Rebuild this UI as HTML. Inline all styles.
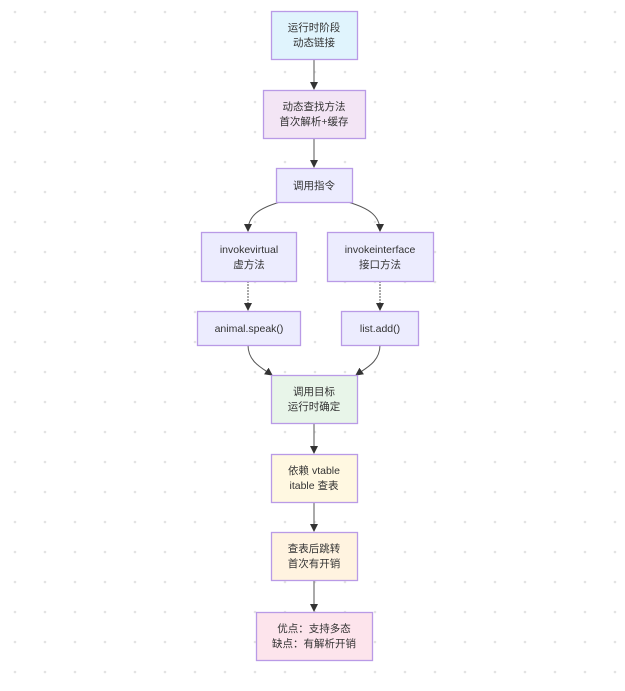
<!DOCTYPE html>
<html><head><meta charset="utf-8"><style>
body{margin:0;background:#fff}
svg{display:block}
text{font-family:"Liberation Sans","Noto Sans CJK SC",sans-serif;font-size:10.5px;fill:#333;text-anchor:middle}
</style></head><body>
<svg width="625" height="691" viewBox="0 0 625 691" xmlns="http://www.w3.org/2000/svg">
<defs>
<pattern id="d" x="0" y="0" width="30" height="30" patternUnits="userSpaceOnUse"><circle cx="15" cy="12" r="1.3" fill="#e3e3e3"/></pattern>
<marker id="a" markerWidth="8" markerHeight="8" refX="7" refY="4" orient="auto" markerUnits="userSpaceOnUse"><path d="M0,0L8,4L0,8z" fill="#333"/></marker>
</defs>
<rect width="625" height="691" fill="url(#d)"/>
<g stroke="#555" stroke-width="1" fill="none" marker-end="url(#a)">
<path d="M314,59V89"/>
<path d="M314,138V167"/>
<path d="M280,202C260,208 248,215 248,231"/>
<path d="M348,202C368,208 380,215 380,231"/>
<path d="M248,281V310" stroke-dasharray="2,1"/>
<path d="M380,281V310" stroke-dasharray="2,1"/>
<path d="M248,345C248,362 262,368 272,375"/>
<path d="M380,345C380,362 366,368 356,375"/>
<path d="M314,423V453"/>
<path d="M314,502V531"/>
<path d="M314,580V611"/>
</g>
<g stroke="#b99ae6" stroke-width="1.3">
<rect x="271.5" y="11.5" width="86" height="48" fill="#e0f4fd"/>
<rect x="263.5" y="90.5" width="102" height="48" fill="#f3e5f5"/>
<rect x="276.5" y="168.5" width="76" height="34" fill="#ececfe"/>
<rect x="201.5" y="232.5" width="95" height="49" fill="#ececfe"/>
<rect x="327.5" y="232.5" width="106" height="49" fill="#ececfe"/>
<rect x="197.5" y="311.5" width="103" height="34" fill="#ececfe"/>
<rect x="341.5" y="311.5" width="77" height="34" fill="#ececfe"/>
<rect x="271.5" y="375.5" width="86" height="48" fill="#e8f5e9"/>
<rect x="271.5" y="454.5" width="86" height="48" fill="#fff8e1"/>
<rect x="271.5" y="532.5" width="86" height="48" fill="#fff3e0"/>
<rect x="256.5" y="612.5" width="116" height="48" fill="#fde4ec"/>
</g>
<text x="314" y="31">运行时阶段</text><text x="314" y="46">动态链接</text>
<text x="314" y="110">动态查找方法</text><text x="314" y="125">首次解析+缓存</text>
<text x="314" y="189">调用指令</text>
<text x="249" y="253">invokevirtual</text><text x="249" y="268">虚方法</text>
<text x="380" y="253">invokeinterface</text><text x="380" y="268">接口方法</text>
<text x="249" y="332">animal.speak()</text>
<text x="380" y="332">list.add()</text>
<text x="314" y="395">调用目标</text><text x="314" y="410">运行时确定</text>
<text x="314" y="474">依赖 vtable</text><text x="314" y="489">itable 查表</text>
<text x="314" y="552">查表后跳转</text><text x="314" y="567">首次有开销</text>
<text x="314" y="632">优点：支持多态</text><text x="314" y="647">缺点：有解析开销</text>
</svg>
</body></html>
